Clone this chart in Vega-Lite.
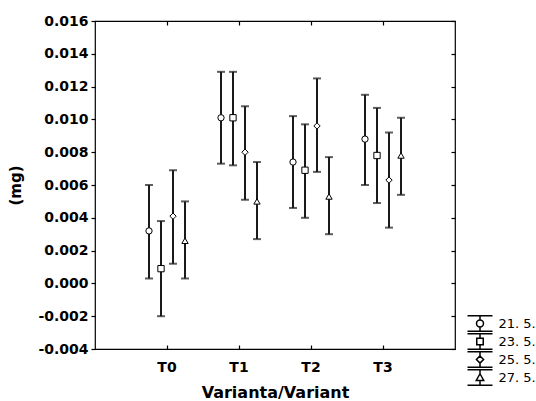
{
  "$schema": "https://vega.github.io/schema/vega-lite/v6.json",
  "autosize": "none",
  "width": 360,
  "height": 328,
  "padding": {"left": 95, "top": 21, "right": 81, "bottom": 52},
  "background": "white",
  "data": {
    "values": [
      {"variant": "T0", "date": "21. 5.", "mean": 0.0032, "lo": 0.0003, "hi": 0.0060},
      {"variant": "T0", "date": "23. 5.", "mean": 0.0009, "lo": -0.0020, "hi": 0.0038},
      {"variant": "T0", "date": "25. 5.", "mean": 0.0041, "lo": 0.0012, "hi": 0.0069},
      {"variant": "T0", "date": "27. 5.", "mean": 0.0026, "lo": 0.0003, "hi": 0.0050},
      {"variant": "T1", "date": "21. 5.", "mean": 0.0101, "lo": 0.0073, "hi": 0.0129},
      {"variant": "T1", "date": "23. 5.", "mean": 0.0101, "lo": 0.0072, "hi": 0.0129},
      {"variant": "T1", "date": "25. 5.", "mean": 0.0080, "lo": 0.0051, "hi": 0.0108},
      {"variant": "T1", "date": "27. 5.", "mean": 0.0050, "lo": 0.0027, "hi": 0.0074},
      {"variant": "T2", "date": "21. 5.", "mean": 0.0074, "lo": 0.0046, "hi": 0.0102},
      {"variant": "T2", "date": "23. 5.", "mean": 0.0069, "lo": 0.0040, "hi": 0.0097},
      {"variant": "T2", "date": "25. 5.", "mean": 0.0096, "lo": 0.0068, "hi": 0.0125},
      {"variant": "T2", "date": "27. 5.", "mean": 0.0053, "lo": 0.0030, "hi": 0.0077},
      {"variant": "T3", "date": "21. 5.", "mean": 0.0088, "lo": 0.0060, "hi": 0.0115},
      {"variant": "T3", "date": "23. 5.", "mean": 0.0078, "lo": 0.0049, "hi": 0.0107},
      {"variant": "T3", "date": "25. 5.", "mean": 0.0063, "lo": 0.0034, "hi": 0.0092},
      {"variant": "T3", "date": "27. 5.", "mean": 0.0078, "lo": 0.0054, "hi": 0.0101}
    ]
  },
  "encoding": {
    "x": {"field": "variant", "type": "nominal", "scale": {"domain": ["T0", "T1", "T2", "T3"], "paddingInner": 0, "paddingOuter": 0.5}},
    "xOffset": {"field": "date", "type": "nominal", "scale": {"domain": ["21. 5.", "23. 5.", "25. 5.", "27. 5."], "paddingInner": 0, "paddingOuter": 1.3}}
  },
  "layer": [
    {
      "mark": {"type": "rule", "color": "#1a1a1a", "strokeWidth": 2},
      "encoding": {
        "x": {"field": "variant", "type": "nominal", "axis": {"title": "Varianta/Variant", "ticks": false, "tickSize": 0, "labelPadding": 11, "labelAngle": 0, "titleFontSize": 16, "titlePadding": 10}},
        "y": {"field": "lo", "type": "quantitative", "scale": {"domain": [-0.004, 0.016], "nice": false, "zero": false},
          "axis": {"title": "(mg)", "values": [-0.004, -0.002, 0, 0.002, 0.004, 0.006, 0.008, 0.010, 0.012, 0.014, 0.016], "format": ".3f", "labelExpr": "replace(datum.label, '\u2212', '-')", "tickSize": 4, "labelPadding": 3, "titleFontSize": 15, "titlePadding": 14}},
        "y2": {"field": "hi"}
      }
    },
    {
      "mark": {"type": "tick", "color": "#1a1a1a", "orient": "horizontal", "size": 8, "thickness": 2},
      "encoding": {
        "x": {"field": "variant", "type": "nominal", "axis": {"orient": "top", "offset": -4, "labels": false, "tickSize": 4, "title": null}},
        "y": {"field": "hi", "type": "quantitative", "axis": {"orient": "right", "offset": -4, "labels": false, "tickSize": 4, "title": null, "values": [-0.004, -0.002, 0, 0.002, 0.004, 0.006, 0.008, 0.010, 0.012, 0.014, 0.016]}}
      }
    },
    {
      "mark": {"type": "tick", "color": "#1a1a1a", "orient": "horizontal", "size": 8, "thickness": 2},
      "encoding": {
        "x": {"field": "variant", "type": "nominal", "axis": null},
        "y": {"field": "lo", "type": "quantitative", "axis": null}
      }
    },
    {
      "mark": {"type": "point", "filled": true, "fill": "white", "stroke": "#000", "strokeWidth": 1, "size": 40, "opacity": 1},
      "encoding": {
        "x": {"field": "variant", "type": "nominal", "axis": {"orient": "bottom", "offset": -4, "labels": false, "tickSize": 4, "title": null}},
        "y": {"field": "mean", "type": "quantitative", "axis": null},
        "shape": {"field": "date", "type": "nominal", "scale": {"domain": ["21. 5.", "23. 5.", "25. 5.", "27. 5."], "range": ["circle", "square", "diamond", "triangle-up"]}, "legend": null}
      }
    },
    {
      "mark": {"type": "point", "filled": true, "fill": "white", "stroke": "#000", "size": 289, "opacity": 0},
      "encoding": {
        "x": {"field": "variant", "type": "nominal", "axis": null},
        "y": {"field": "mean", "type": "quantitative", "axis": null},
        "shape": {"field": "date", "type": "nominal",
          "scale": {"domain": ["21. 5.", "23. 5.", "25. 5.", "27. 5."],
            "range": [
              "M-1.47,-0.91H1.47M0,-0.91V-0.41M0,0.41V0.91M-1.47,0.91H1.47M-0.41,0A0.41,0.41,0,1,1,0.41,0A0.41,0.41,0,1,1,-0.41,0Z",
              "M-1.47,-0.91H1.47M0,-0.91V-0.38M0,0.38V0.91M-1.47,0.91H1.47M-0.38,-0.38H0.38V0.38H-0.38Z",
              "M-1.47,-0.91H1.47M0,-0.91V-0.42M0,0.42V0.91M-1.47,0.91H1.47M0,-0.42L0.42,0L0,0.42L-0.42,0Z",
              "M-1.47,-0.91H1.47M0,-0.91V-0.44M0,0.35V0.91M-1.47,0.91H1.47M0,-0.44L0.44,0.35L-0.44,0.35Z"
            ]},
          "legend": {"title": null, "orient": "none", "legendX": 371, "legendY": 294, "padding": 0, "rowPadding": 1, "clipHeight": 17, "symbolSize": 289, "symbolOffset": 4.5, "symbolStrokeWidth": 1.5, "symbolOpacity": 1, "labelFont": "DejaVu Sans", "labelFontSize": 13, "labelColor": "#000", "labelOffset": 9,
            "encode": {"symbols": {"update": {"fill": {"value": "white"}, "stroke": {"value": "#000"}, "opacity": {"value": 1}, "strokeWidth": {"value": 1.5}}}}}
        }
      }
    }
  ],
  "resolve": {"axis": {"x": "independent", "y": "independent"}, "scale": {"shape": "independent"}},
  "config": {
    "view": {"stroke": "#000", "strokeWidth": 1.2},
    "axis": {"labelFont": "DejaVu Sans", "labelFontWeight": "bold", "labelFontSize": 14, "labelColor": "#000", "titleFont": "DejaVu Sans", "titleFontWeight": "bold", "titleColor": "#000", "tickColor": "#000", "tickWidth": 1.2, "domain": false, "grid": false}
  }
}
